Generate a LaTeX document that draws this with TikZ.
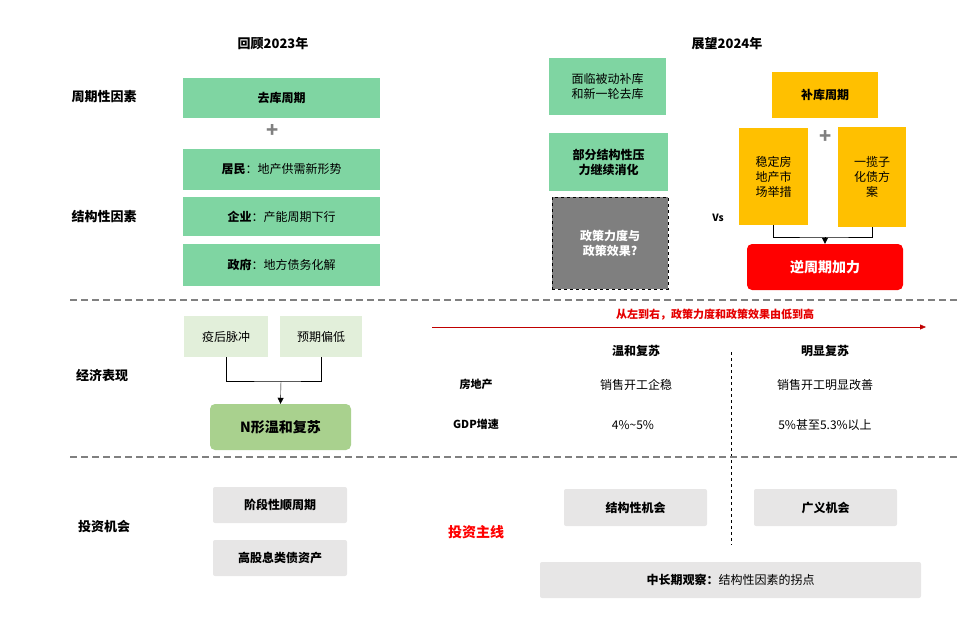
\documentclass[tikz,border=0pt]{standalone}
\usepackage{fontspec}
\setmainfont{Noto Sans CJK SC}
\usetikzlibrary{positioning, arrows.meta, calc}
\definecolor{greenbox}{RGB}{127,213,162}
\definecolor{lightgreen}{RGB}{226,239,218}
\definecolor{midgreen}{RGB}{169,209,142}
\definecolor{goldbox}{RGB}{255,192,0}
\definecolor{greybox}{RGB}{231,230,230}
\definecolor{darkgreybox}{RGB}{127,127,127}
\definecolor{darkred}{RGB}{192,0,0}

\begin{document}
\begin{tikzpicture}[
  x=1pt, y=-1pt,
  box/.style={rectangle, inner sep=2pt, align=center, font=\fontsize{12}{15}\selectfont},
  gbox/.style={box, fill=greenbox},
  lgbox/.style={box, fill=lightgreen},
  ybox/.style={box, fill=goldbox},
  ggbox/.style={box, fill=greybox, rounded corners=2pt, font=\fontsize{12}{15}\selectfont\bfseries},
  rowlabel/.style={font=\fontsize{13}{16}\selectfont\bfseries},
  plain/.style={font=\fontsize{12}{15}\selectfont},
  sep/.style={draw=gray, line width=1.4pt, dash pattern=on 7pt off 4pt},
  link/.style={draw=black, thin},
  tip/.style={-{Triangle[length=6pt,width=6pt]}, thin}
]
\useasboundingbox (0,0) rectangle (980,629);

% Headers
\node[rowlabel] (h23) at (273,44) {回顾2023年};
\node[rowlabel] (h24) at (727,44) {展望2024年};
\node[rowlabel] (r1) at (104,97) {周期性因素};
\node[rowlabel] (r2) at (104,217) {结构性因素};
\node[rowlabel] (r3) at (102,376) {经济表现};
\node[rowlabel] (r4) at (104,527) {投资机会};

% 2023 factors
\node[gbox, minimum width=197pt, minimum height=40pt, font=\fontsize{12}{15}\selectfont\bfseries] (qk) at (281.5,98) {去库周期};
\node[text=gray, font=\fontsize{20}{20}\selectfont\bfseries] (p1) at (273,131) {+};
\node[gbox, minimum width=197pt, minimum height=41pt] (jm) at (281.5,169.5) {\textbf{居民}：地产供需新形势};
\node[gbox, minimum width=197pt, minimum height=39pt] (qy) at (281.5,216.5) {\textbf{企业}：产能周期下行};
\node[gbox, minimum width=197pt, minimum height=42pt] (zf) at (281.5,265) {\textbf{政府}：地方债务化解};

% 2024 factors, left
\node[gbox, minimum width=117pt, minimum height=57pt] (mlbd) at (607.5,86.5) {面临被动补库\\和新一轮去库};
\node[gbox, minimum width=119pt, minimum height=58pt, font=\fontsize{12}{15}\selectfont\bfseries] (bfjg) at (608.5,162) {部分结构性压\\力继续消化};
\node[box, fill=darkgreybox, draw=black, thick, dashed, text=white, minimum width=116pt, minimum height=92pt, font=\fontsize{12}{15}\selectfont\bfseries] (zclg) at (610,243) {政策力度与\\政策效果?};

% 2024 factors, right
\node[ybox, minimum width=106pt, minimum height=46pt, font=\fontsize{12}{15}\selectfont\bfseries] (bk) at (825,95) {补库周期};
\node[ybox, minimum width=69pt, minimum height=97pt] (wd) at (773.5,176.5) {稳定房\\地产市\\场举措};
\node[ybox, minimum width=68pt, minimum height=100pt] (ylz) at (872,177) {一揽子\\化债方\\案};
\node[text=gray, font=\fontsize{20}{20}\selectfont\bfseries] (p2) at (826,137) {+};
\node[font=\fontsize{10}{12}\selectfont\bfseries] (vs) at (718,218) {Vs};
\node[box, fill=red, rounded corners=5pt, text=white, minimum width=156pt, minimum height=46pt, font=\fontsize{14}{17}\selectfont\bfseries] (nzq) at (825,267) {逆周期加力};
\coordinate (m1) at (825,237);
\draw[link] (wd.south) |- (m1) -| (ylz.south);
\draw[tip] (m1) -- (nzq.north);

\draw[sep] (70,300) -- (960,300);

% Economy
\node[lgbox, minimum width=84pt, minimum height=41pt] (yh) at (226,336.5) {疫后脉冲};
\node[lgbox, minimum width=82pt, minimum height=41pt] (yq) at (321,336.5) {预期偏低};
\node[box, fill=midgreen, rounded corners=5pt, minimum width=141pt, minimum height=46pt, font=\fontsize{14}{17}\selectfont\bfseries] (nx) at (280.5,427) {N形温和复苏};
\coordinate (m2) at (281,381);
\draw[link] (yh.south) |- (m2) -| (yq.south);
\draw[tip] (m2) -- (nx.north);

\coordinate (al) at (432,327);
\coordinate (ar) at (926,327);
\draw[darkred, -{Triangle[length=6pt,width=5pt]}] (al) -- (ar);
\node[text=red!90!black, font=\fontsize{11}{13}\selectfont\bfseries\itshape] (dir) at (715,315) {从左到右，政策力度和政策效果由低到高};

\node[plain, font=\fontsize{12}{15}\selectfont\bfseries] (wh) at (636,351) {温和复苏};
\node[plain, font=\fontsize{12}{15}\selectfont\bfseries] (mx) at (825,351) {明显复苏};
\draw[black, dashed] (731,352) -- (731,545);
\node[font=\fontsize{11}{13}\selectfont\bfseries] (fdc) at (476,384) {房地产};
\node[font=\fontsize{11}{13}\selectfont\bfseries] (gdp) at (476,424) {GDP增速};
\node[plain] (xs1) at (636,385) {销售开工企稳};
\node[plain] (xs2) at (825,385) {销售开工明显改善};
\node[plain] (g1) at (633,425) {4\%\textasciitilde5\%};
\node[plain] (g2) at (825,425) {5\%甚至5.3\%以上};

\draw[sep] (70,457) -- (960,457);

% Investment
\node[ggbox, minimum width=134pt, minimum height=36pt] (jd) at (280,505) {阶段性顺周期};
\node[ggbox, minimum width=134pt, minimum height=36pt] (ggx) at (280,558) {高股息类债资产};
\node[text=red, font=\fontsize{14}{17}\selectfont\bfseries] (zx) at (476,532) {投资主线};
\node[ggbox, minimum width=143pt, minimum height=37pt] (jgx) at (635.5,507.5) {结构性机会};
\node[ggbox, minimum width=143pt, minimum height=37pt] (gy) at (825.5,507.5) {广义机会};
\node[box, fill=greybox, rounded corners=2pt, minimum width=381pt, minimum height=36pt] (zcq) at (730.5,580) {\textbf{中长期观察：}结构性因素的拐点};
\end{tikzpicture}
\end{document}
